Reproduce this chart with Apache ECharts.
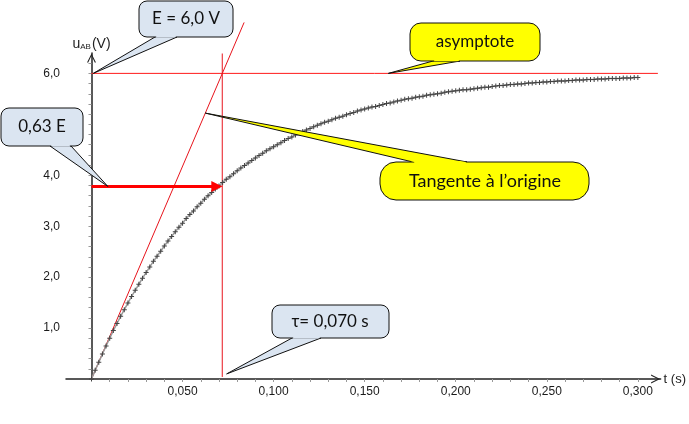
<!DOCTYPE html>
<html>
<head>
<meta charset="utf-8">
<script src="https://cdn.jsdelivr.net/npm/echarts@6/dist/echarts.min.js"></script>
<style>
html,body{margin:0;padding:0;background:#fff;}
#c{width:689px;height:424px;}
</style>
</head>
<body>
<div id="c"></div>
<script>
// ---- data ----
const T_STEP = 0.002; // time step between measured points (s)
const uValues = [
0.00,0.17,0.33,0.49,0.65,0.80,0.95,1.09,1.23,1.36,
1.49,1.62,1.74,1.86,1.98,2.09,2.20,2.31,2.41,2.51,
2.61,2.71,2.80,2.89,2.98,3.06,3.15,3.23,3.30,3.38,
3.45,3.53,3.60,3.66,3.73,3.79,3.86,3.92,3.97,4.03,
4.09,4.14,4.19,4.24,4.29,4.34,4.39,4.43,4.48,4.52,
4.56,4.60,4.64,4.68,4.72,4.75,4.79,4.82,4.86,4.89,
4.92,4.95,4.98,5.01,5.04,5.06,5.09,5.12,5.14,5.16,
5.19,5.21,5.23,5.26,5.28,5.30,5.32,5.34,5.35,5.37,
5.39,5.41,5.42,5.44,5.46,5.47,5.49,5.50,5.51,5.53,
5.54,5.55,5.57,5.58,5.59,5.60,5.61,5.63,5.64,5.65,
5.66,5.67,5.68,5.68,5.69,5.70,5.71,5.72,5.73,5.73,
5.74,5.75,5.76,5.76,5.77,5.78,5.78,5.79,5.79,5.80,
5.81,5.81,5.82,5.82,5.83,5.83,5.84,5.84,5.85,5.85,
5.85,5.86,5.86,5.87,5.87,5.87,5.88,5.88,5.88,5.89,
5.89,5.89,5.90,5.90,5.90,5.90,5.91,5.91,5.91,5.92,5.92
];
const E = 6.0;            // asymptote (V)
const TAU = 0.0718;       // position of the tau line as drawn (s)
const U_TAU = 3.78;       // 0.63 E
const tangentEnd = [0.0838, 7.0];
const tauLineRange = [0.04, 6.39];
const asymptoteEnd = 0.311;
const xLabelValues = [0.05, 0.10, 0.15, 0.20, 0.25, 0.30];
const yLabelValues = [1, 2, 3, 4, 5, 6];
const calloutTexts = ['E = 6,0 V', '0,63 E', 'asymptote', 'Tangente à l’origine', 'τ= 0,070 s'];

const curve = uValues.map((u, i) => [+(i * T_STEP).toFixed(3), u]);
const xTicks = []; for (let i = 1; i <= 30; i++) xTicks.push(+(i * 0.01).toFixed(2));
const yTicks = []; for (let i = 1; i <= 31; i++) yTicks.push(+(i * 0.2).toFixed(1));

const chart = echarts.init(document.getElementById('c'), null, {renderer: 'canvas'});
const chevron = 'path://M0,10 L5,0 L10,10 L8.6,10 L5,2.6 L1.4,10 Z';
const axisFont = {fontFamily: '"Liberation Sans", Arial, sans-serif', fontSize: 12, color: '#1a1a1a'};

chart.setOption({
  animation: false,
  backgroundColor: '#fff',
  grid: {left: 66, right: 28, top: 53, bottom: 45, containLabel: false},
  xAxis: {
    type: 'value', min: -0.014, max: 0.3125,
    splitLine: {show: false},
    axisLine: {onZero: true, symbol: ['none', chevron], symbolSize: [9, 11], symbolOffset: [0, -5], lineStyle: {color: '#222', width: 1.5}},
    axisTick: {show: true, customValues: xTicks, length: 3, lineStyle: {color: '#999'}},
    axisLabel: Object.assign({customValues: xLabelValues, margin: 7, formatter: v => v.toFixed(3).replace('.', ',')}, axisFont),
    name: 't (s)', nameLocation: 'end', nameGap: 3,
    nameTextStyle: {fontFamily: '"Liberation Sans", Arial, sans-serif', fontSize: 13, color: '#222', verticalAlign: 'middle', padding: [0, 0, 4, 0]}
  },
  yAxis: {
    type: 'value', min: 0, max: 6.4,
    splitLine: {show: false},
    axisLine: {onZero: true, symbol: ['none', chevron], symbolSize: [9, 11], symbolOffset: [0, -5], lineStyle: {color: '#222', width: 1.5}},
    axisTick: {show: true, customValues: yTicks, length: 3, lineStyle: {color: '#999'}},
    axisLabel: Object.assign({customValues: yLabelValues, margin: 6, formatter: v => v.toFixed(1).replace('.', ',')}, axisFont),
    name: '{u|u}{s|AB}{n|(V)}', nameLocation: 'end', nameGap: 2,
    nameTextStyle: {
      rich: {
        u: {fontFamily: '"Liberation Sans", Arial', fontSize: 14, color: '#222'},
        s: {fontFamily: '"Liberation Sans", Arial', fontSize: 8, color: '#222', padding: [6, 1, 0, 0]},
        n: {fontFamily: '"Liberation Sans", Arial', fontSize: 14, color: '#222'}
      }
    }
  },
  series: [
    {type: 'line', data: [[0, E], [asymptoteEnd, E]], symbol: 'none', clip: false,
     lineStyle: {color: '#ff1a1a', width: 1}, z: 3},
    {type: 'line', data: [[0, 0], tangentEnd], symbol: 'none', clip: false,
     lineStyle: {color: '#e8141c', width: 1}, z: 3},
    {type: 'line', data: [[TAU, tauLineRange[0]], [TAU, tauLineRange[1]]], symbol: 'none', clip: false,
     lineStyle: {color: '#e8141c', width: 1}, z: 3},
    {type: 'line', data: curve, showAllSymbol: true,
     symbol: 'path://M4,0 L6,0 L6,4 L10,4 L10,6 L6,6 L6,10 L4,10 L4,6 L0,6 L0,4 L4,4 Z',
     symbolSize: 5, itemStyle: {color: '#444'}, lineStyle: {color: '#999', width: 1.5}, z: 4},
    {type: 'lines', coordinateSystem: 'cartesian2d', z: 5,
     symbol: ['none', 'triangle'], symbolSize: [0, 11],
     lineStyle: {color: '#ff0000', width: 3, opacity: 1, curveness: 0},
     data: [{coords: [[0, U_TAU], [TAU - 0.003, U_TAU]]}]}
  ]
});

// ---- callouts (annotation boxes), tips anchored to data points ----
const px = p => chart.convertToPixel({gridIndex: 0}, p);
function callout(box, baseY, baseX1, baseX2, tipData, fill, text, textCenter, font) {
  const tip = px(tipData);
  const els = [];
  const inward = baseY > box[1] + 1 ? -1.5 : 1.5;
  els.push({type: 'polygon', z: 100, shape: {points: [[baseX1, baseY], tip, [baseX2, baseY]]},
            style: {fill: fill, stroke: '#111', lineWidth: 1}});
  els.push({type: 'rect', z: 101, shape: {x: box[0], y: box[1], width: box[2], height: box[3], r: box[4]},
            style: {fill: fill, stroke: '#111', lineWidth: 1}});
  els.push({type: 'polygon', z: 102, shape: {points: [[baseX1 + 1.2, baseY + inward], [baseX1 + 1.2, baseY], [baseX1 + (tip[0] - baseX1) * 0.02 + 1.5, baseY + (tip[1] - baseY) * 0.02], [baseX2 + (tip[0] - baseX2) * 0.02 - 1.5, baseY + (tip[1] - baseY) * 0.02], [baseX2 - 1.2, baseY], [baseX2 - 1.2, baseY + inward]]},
            style: {fill: fill}});
  els.push({type: 'text', z: 103, x: textCenter[0], y: textCenter[1],
            style: {text: text, fill: '#111', font: font, align: 'center', verticalAlign: 'middle'}});
  return els;
}
const f17 = '17px Lato, "Open Sans", sans-serif';
const f18 = '18px Lato, "Open Sans", sans-serif';
const blue = '#dbe5f1', yellow = '#ffff00';
let g = [];
g = g.concat(callout([139, 1, 94, 36, 8], 37, 155, 177, [0.001, E], blue, calloutTexts[0], [186, 19], f17));
g = g.concat(callout([1, 108, 82, 38, 8], 146, 50, 71, [0.009, U_TAU], blue, calloutTexts[1], [42, 127], f17));
g = g.concat(callout([410, 23, 130, 38, 11], 61, 433, 460, [0.163, E], yellow, calloutTexts[2], [475, 42], f17));
g = g.concat(callout([380, 162, 209, 38, 16], 162, 413, 467, [0.0625, 5.22], yellow, calloutTexts[3], [485, 181], f18));
g = g.concat(callout([272, 305, 117, 33, 8], 338, 292, 321, [0.0742, 0.1], blue, calloutTexts[4], [330, 322], f17));
chart.setOption({graphic: {elements: g}});
</script>
</body>
</html>
